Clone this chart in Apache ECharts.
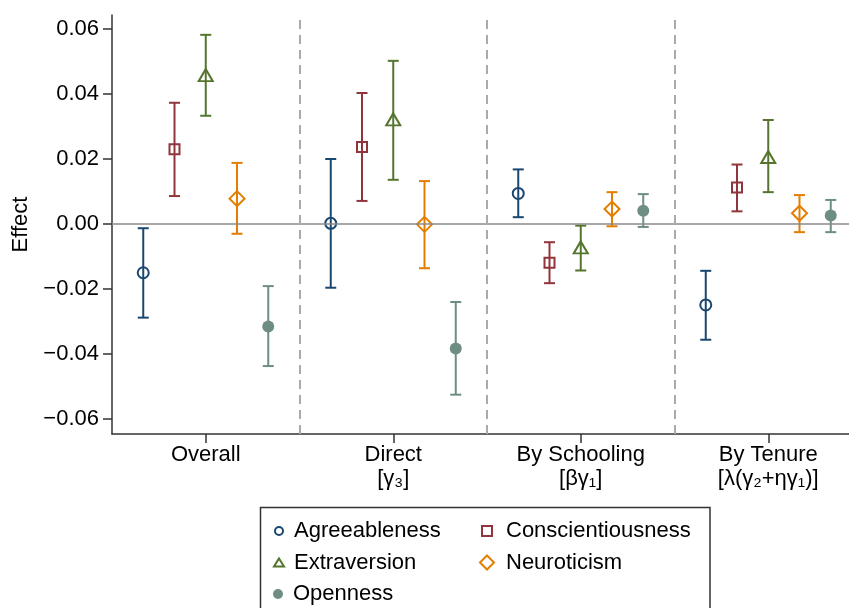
<!DOCTYPE html>
<html>
<head>
<meta charset="utf-8">
<script src="https://cdn.jsdelivr.net/npm/echarts@6/dist/echarts.min.js"></script>
<style>
html,body{margin:0;padding:0;background:#fff;}
#chart{width:849px;height:608px;}
</style>
</head>
<body>
<div id="chart"></div>
<script>
// ---- data ----
const categoryLabels = ['Overall', 'Direct', 'By Schooling', 'By Tenure'];
const categorySubLabels = ['', '[γ₃]', '[βγ₁]', '[λ(γ₂+ηγ₁)]'];
const traitNames = ['Agreeableness', 'Conscientiousness', 'Extraversion', 'Neuroticism', 'Openness'];

const agreeableEst = [-0.0150, 0.0002, 0.0094, -0.0249];
const agreeableLo  = [-0.0288, -0.0196, 0.0021, -0.0356];
const agreeableHi  = [-0.0013, 0.0200, 0.0168, -0.0144];

const conscEst = [0.0230, 0.0237, -0.0119, 0.0112];
const conscLo  = [0.0086, 0.0071, -0.0182, 0.0039];
const conscHi  = [0.0373, 0.0403, -0.0056, 0.0183];

const extraEst = [0.0458, 0.0322, -0.0072, 0.0206];
const extraLo  = [0.0333, 0.0136, -0.0143, 0.0098];
const extraHi  = [0.0582, 0.0502, -0.0005, 0.0320];

const neuroEst = [0.0078, -0.0001, 0.0046, 0.0033];
const neuroLo  = [-0.0030, -0.0136, -0.0007, -0.0025];
const neuroHi  = [0.0188, 0.0132, 0.0098, 0.0089];

const openEst = [-0.0315, -0.0383, 0.0041, 0.0026];
const openLo  = [-0.0437, -0.0525, -0.0009, -0.0025];
const openHi  = [-0.0191, -0.0240, 0.0092, 0.0074];

const yTicks = [-0.06, -0.04, -0.02, 0, 0.02, 0.04, 0.06];

// ---- styling ----
const FONT = 'Liberation Sans, Arial, Helvetica, sans-serif';
const traitStyles = [
  {color: '#1a476f', symbol: 'circle',   size: 11, hollow: true,  legendSize: [8, 8]},
  {color: '#90353b', symbol: 'rect',     size: 10, hollow: true,  legendSize: [10, 10]},
  {color: '#55752f', symbol: 'triangle', size: [14, 12], hollow: true, legendSize: [10, 8]},
  {color: '#e37e00', symbol: 'diamond',  size: 15, hollow: true,  legendSize: [14, 14]},
  {color: '#6e8e84', symbol: 'circle',   size: 12, hollow: false, legendSize: [10, 10]}
];
const traitData = [
  [agreeableEst, agreeableLo, agreeableHi],
  [conscEst, conscLo, conscHi],
  [extraEst, extraLo, extraHi],
  [neuroEst, neuroLo, neuroHi],
  [openEst, openLo, openHi]
];
const offsetStep = 1 / 6;

const series = [];
traitNames.forEach((name, k) => {
  const [est, lo, hi] = traitData[k];
  const st = traitStyles[k];
  const xs = est.map((_, g) => g + 0.5 + (k - 2) * offsetStep);
  series.push({
    name: name + ' CI',
    type: 'custom',
    silent: true,
    z: 3,
    data: xs.map((x, g) => [x, lo[g], hi[g]]),
    encode: {x: 0, y: [1, 2]},
    renderItem: function (params, api) {
      const x = api.value(0);
      const p1 = api.coord([x, api.value(1)]);
      const p2 = api.coord([x, api.value(2)]);
      const hw = 5.5;
      const style = {stroke: st.color, lineWidth: 2, fill: null};
      return {
        type: 'group',
        children: [
          {type: 'line', shape: {x1: p1[0], y1: p1[1], x2: p2[0], y2: p2[1]}, style: style},
          {type: 'line', shape: {x1: p1[0] - hw, y1: p1[1], x2: p1[0] + hw, y2: p1[1]}, style: style},
          {type: 'line', shape: {x1: p2[0] - hw, y1: p2[1], x2: p2[0] + hw, y2: p2[1]}, style: style}
        ]
      };
    }
  });
  series.push({
    name: name,
    type: 'scatter',
    z: 4,
    symbol: st.symbol,
    symbolSize: st.size,
    itemStyle: st.hollow
      ? {color: 'rgba(255,255,255,0)', borderColor: st.color, borderWidth: 2, opacity: 1}
      : {color: st.color, borderWidth: 0, opacity: 1},
    emphasis: {disabled: true},
    data: xs.map((x, g) => [x, est[g]])
  });
});

series.push({
  name: 'ref',
  type: 'line',
  data: [],
  silent: true,
  markLine: {
    silent: true,
    symbol: 'none',
    label: {show: false},
    animation: false,
    data: [
      {yAxis: 0, lineStyle: {color: '#8a8a8a', width: 1.5, type: 'solid'}},
      {xAxis: 1, lineStyle: {color: '#aaaaaa', width: 2, type: [9, 6]}},
      {xAxis: 2, lineStyle: {color: '#aaaaaa', width: 2, type: [9, 6]}},
      {xAxis: 3, lineStyle: {color: '#aaaaaa', width: 2, type: [9, 6]}}
    ]
  },
  z: 1
});

const catTicks = categoryLabels.map((_, g) => g + 0.5);

function fmtY(v) {
  const r = Math.round(v * 100) / 100;
  if (Math.abs(r) < 1e-9) return '0.00';
  return (r < 0 ? '\u2212' : '') + Math.abs(r).toFixed(2);
}

// legend layout: one legend per item (column, row)
const legendPlacement = [
  {col: 0, row: 0}, // Agreeableness
  {col: 1, row: 0}, // Conscientiousness
  {col: 0, row: 1}, // Extraversion
  {col: 1, row: 1}, // Neuroticism
  {col: 0, row: 2}  // Openness
];
const legendColLeft = [261, 469];
const legendColTextPad = [-2, 2];
const legendRowCenter = [531, 562.5, 594];
const legends = traitNames.map((name, k) => {
  const st = traitStyles[k];
  const p = legendPlacement[k];
  const boxW = 24;
  return {
    data: [name],
    orient: 'horizontal',
    left: legendColLeft[p.col],
    top: legendRowCenter[p.row] - 12 - 5,
    itemWidth: st.legendSize[0],
    itemHeight: st.legendSize[1],
    padding: [5, 5, 5, 5 + (boxW - st.legendSize[0]) / 2],
    selectedMode: false,
    textStyle: {
      fontFamily: FONT, fontSize: 22, color: '#000', lineHeight: 24,
      padding: [0, 0, 0, (boxW - st.legendSize[0]) / 2 + legendColTextPad[p.col]]
    }
  };
});

const option = {
  animation: false,
  backgroundColor: '#fff',
  textStyle: {fontFamily: FONT},
  grid: {left: 112, top: 15, width: 750, height: 419, containLabel: false, outerBoundsMode: 'none'},
  xAxis: {
    type: 'value',
    min: 0,
    max: 4,
    splitLine: {show: false},
    axisLine: {show: true, onZero: false, lineStyle: {color: '#333', width: 1.5}},
    axisTick: {show: true, customValues: catTicks, length: 9, lineStyle: {color: '#333', width: 1.5}},
    axisLabel: {
      customValues: catTicks,
      margin: 9,
      formatter: function (v) {
        const g = Math.round(v - 0.5);
        const sub = categorySubLabels[g];
        return '{t|' + categoryLabels[g] + '}' + (sub ? '\n{t|' + sub + '}' : '');
      },
      rich: {t: {fontFamily: FONT, fontSize: 22, color: '#000', lineHeight: 24, align: 'center'}}
    }
  },
  yAxis: {
    type: 'value',
    min: -0.0646,
    max: 0.0643,
    name: 'Effect',
    nameLocation: 'middle',
    nameGap: 77,
    nameTextStyle: {fontFamily: FONT, fontSize: 22, color: '#000'},
    splitLine: {show: false},
    axisLine: {show: true, onZero: false, lineStyle: {color: '#333', width: 1.5}},
    axisTick: {show: true, customValues: yTicks, length: 9, lineStyle: {color: '#333', width: 1.5}},
    axisLabel: {
      customValues: yTicks,
      margin: 13,
      fontFamily: FONT,
      fontSize: 22,
      color: '#000',
      formatter: fmtY
    }
  },
  legend: legends,
  graphic: [
    {type: 'rect', shape: {x: 260.5, y: 507.5, width: 449.5, height: 120}, style: {fill: 'none', stroke: '#333', lineWidth: 1.5}, silent: true}
  ],
  series: series
};

const chart = echarts.init(document.getElementById('chart'), null, {renderer: 'canvas'});
chart.setOption(option);
</script>
</body>
</html>
